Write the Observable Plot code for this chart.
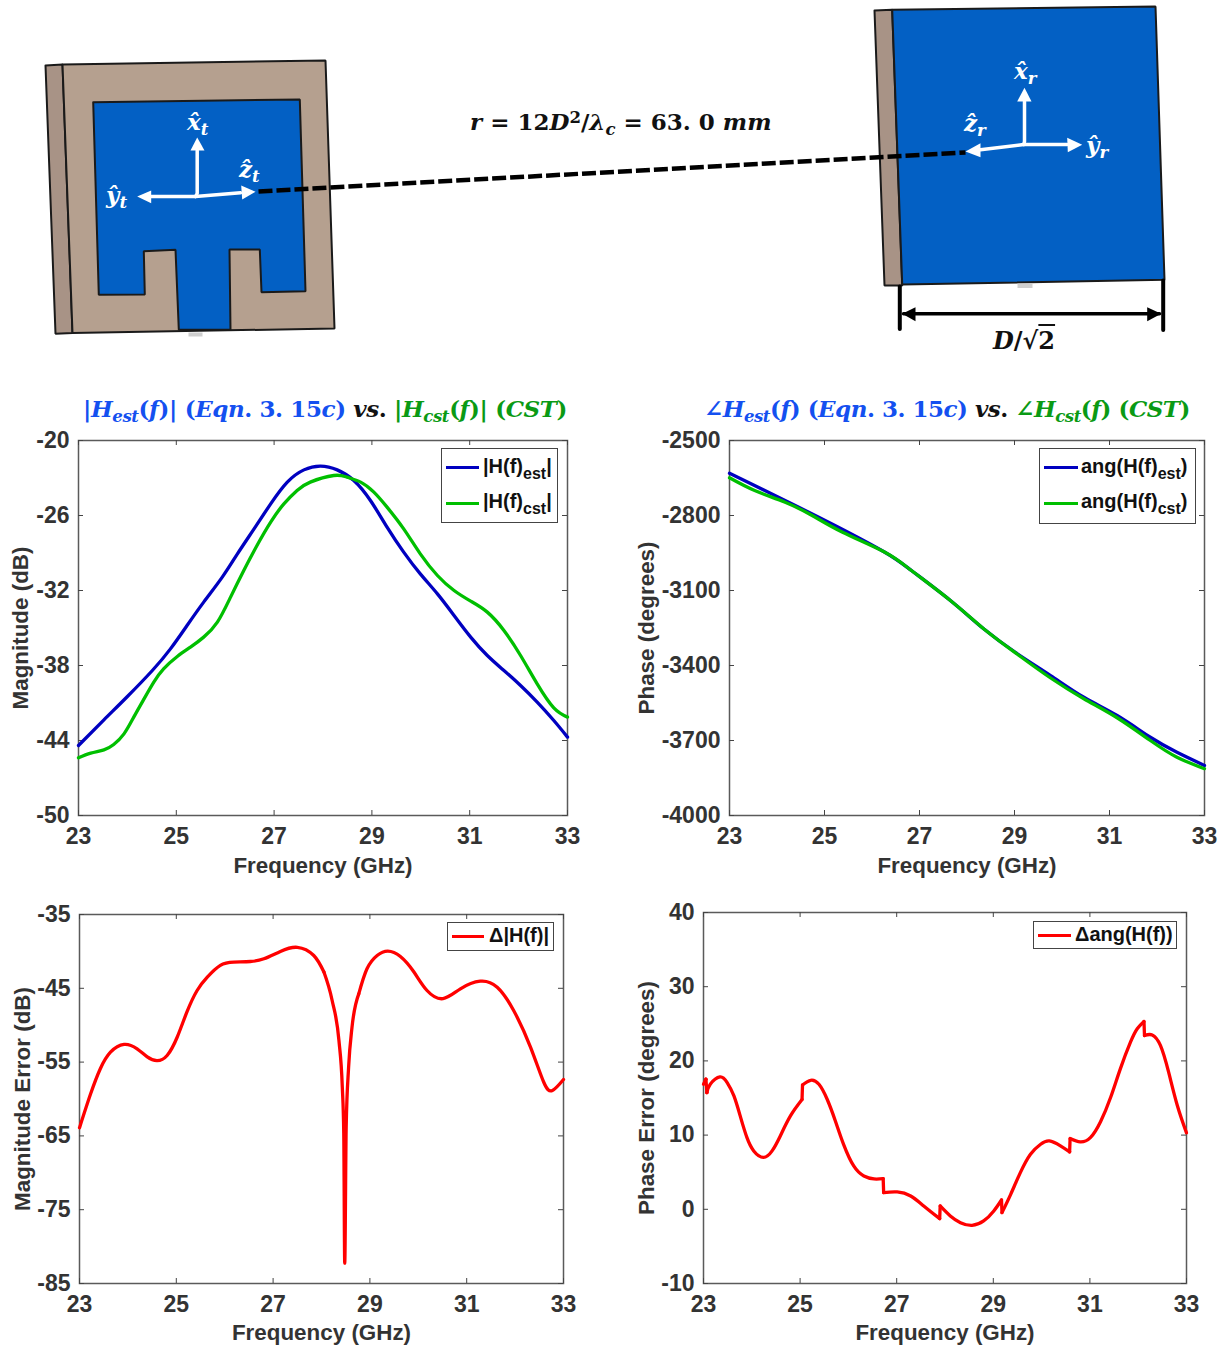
<!DOCTYPE html>
<html><head><meta charset="utf-8">
<script src="https://cdn.jsdelivr.net/npm/d3@7"></script>
<script src="https://cdn.jsdelivr.net/npm/@observablehq/plot@0.6"></script>
<style>
html,body{margin:0;background:#fff}
#page{position:relative;width:1227px;height:1349px;overflow:hidden;background:#fff}
#page svg{position:absolute;max-width:none}
.t{position:absolute;white-space:nowrap;line-height:1}
.m{font-family:"DejaVu Serif",serif;font-weight:700}
.m i{font-style:italic}
.m sub{font-size:.72em;vertical-align:baseline;position:relative;top:.28em;line-height:0}
.m sup{font-size:.72em;vertical-align:baseline;position:relative;top:-.42em;line-height:0}
.lg{position:absolute;border:1px solid #444;background:#fff;box-sizing:border-box}
.sw{position:absolute;height:3px}
.lt{position:absolute;font:700 20px "Liberation Sans",sans-serif;color:#111;white-space:nowrap;line-height:1}
.lt sub{font-size:16px;vertical-align:baseline;position:relative;top:6px;line-height:0}
</style></head><body><div id="page"></div>
<script>
// ---- frequency ticks and value ticks
const freqTicks = [23,25,27,29,31,33];
const magTicks = [-50,-44,-38,-32,-26,-20];
const phaseTicks = [-4000,-3700,-3400,-3100,-2800,-2500];
const magErrTicks = [-85,-75,-65,-55,-45,-35];
const phaseErrTicks = [-10,0,10,20,30,40];

// ---- |H(f)| estimated
const magEstF = [23,23.52,24,24.51,24.88,25.22,25.56,25.94,26.25,26.59,26.93,27.27,27.61,27.95,28.29,28.63,28.97,29.31,29.65,29.99,30.34,30.68,31.02,31.36,31.7,32.04,32.38,32.72,33];
const magEstV = [-44.4,-42.35,-40.48,-38.4,-36.67,-34.8,-32.93,-30.93,-29.07,-27.07,-25.07,-23.33,-22.35,-22.05,-22.35,-23.2,-24.8,-26.93,-28.93,-30.67,-32.27,-34,-35.73,-37.2,-38.4,-39.6,-40.93,-42.4,-43.73];
// ---- |H(f)| CST
const magCstF = [23,23.25,23.52,23.72,23.93,24.13,24.34,24.54,24.74,25.02,25.29,25.56,25.84,26.11,26.38,26.65,26.93,27.2,27.47,27.74,28.22,28.49,28.77,29.04,29.31,29.65,29.99,30.34,30.68,31.02,31.36,31.7,32.04,32.38,32.72,33];
const magCstV = [-45.39,-45.01,-44.75,-44.32,-43.47,-42.13,-40.67,-39.33,-38.27,-37.28,-36.53,-35.73,-34.53,-32.53,-30.4,-28.4,-26.53,-25.07,-24,-23.33,-22.8,-22.93,-23.33,-24.13,-25.33,-27.07,-29.07,-30.8,-32,-32.85,-33.73,-35.2,-37.2,-39.47,-41.39,-42.13];
// ---- phase estimated
const phaseEstF = [23,24.17,25.22,26.27,26.83,27.65,28.35,29.06,29.76,30.46,31.16,31.86,32.42,33];
const phaseEstV = [-2631,-2740,-2840,-2947,-3020,-3140,-3253,-3353,-3440,-3527,-3600,-3687,-3747,-3800];
// ---- phase CST
const phaseCstF = [23,23.53,24.17,24.74,25.38,26.27,26.83,27.65,28.35,29.06,29.76,30.46,31.16,31.86,32.42,33];
const phaseCstV = [-2649,-2700,-2747,-2800,-2867,-2947,-3020,-3140,-3253,-3355,-3450,-3533,-3609,-3700,-3767,-3813];
// ---- magnitude error: left flank, sharp dip, right flank
const magErrLeftF = [23,23.23,23.43,23.64,23.92,24.19,24.4,24.6,24.81,25.02,25.22,25.43,25.64,25.91,26.19,26.53,26.81,27.15,27.5,27.84,28.05];
const magErrLeftV = [-63.9,-59.3,-55.9,-53.66,-52.6,-53.2,-54.3,-54.8,-54.1,-51.6,-48.2,-45.3,-43.5,-41.9,-41.46,-41.37,-41,-40,-39.45,-40.56,-42.8];
const magErrDipF = [28.05,28.22,28.36,28.43,28.46,28.48,28.51,28.56,28.63,28.77];
const magErrDipV = [-42.8,-46.65,-52.07,-58.4,-64.7,-82.25,-63.8,-55.7,-50.3,-45.75];
const magErrRightF = [28.77,28.94,29.15,29.37,29.63,29.91,30.18,30.51,30.87,31.28,31.63,31.97,32.32,32.59,32.77,33];
const magErrRightV = [-45.75,-42.36,-40.56,-39.97,-40.7,-42.8,-45.3,-46.4,-45.07,-44.03,-44.85,-48,-53,-57.7,-58.85,-57.36];
// ---- phase error: smooth runs, joined by straight jumps
const phaseErrRunF = [
 [23,23.05],[23.05,23.07],
 [23.07,23.14,23.34,23.49,23.63,23.77,23.9,24.04,24.24,24.42,24.59,24.8,25.04],
 [25.05,25.22,25.39,25.56,25.73,25.9,26.11,26.32,26.53,26.72],
 [26.73,27.01,27.29,27.56,27.89],
 [27.9,28.11,28.32,28.56,28.8,29.01,29.17],
 [29.18,29.36,29.56,29.77,29.98,30.16,30.39,30.58],
 [30.59,30.8,31.01,31.22,31.43,31.63,31.84,31.98,32.12],
 [32.13,32.29,32.46,32.63,32.81,33]];
const phaseErrRunV = [
 [16.85,17.53],[17.53,15.73],
 [15.73,16.85,17.84,17.08,15.28,12.36,9.66,7.87,7,7.87,9.89,12.58,14.79],
 [16.76,17.39,16.85,14.83,11.91,8.76,5.84,4.49,4.09,4.13],
 [2.25,2.34,1.8,0.45,-1.26],
 [0.45,-0.9,-1.8,-2.16,-1.57,-0.22,1.26],
 [-0.45,2.02,4.94,7.42,8.76,9.21,8.54,7.73],
 [9.53,9.08,9.66,11.8,15.1,18.93,22.52,24.33,25.31],
 [23.42,23.5,22.08,18.48,13.99,10.3]];

// ---- antenna sketch outlines
const TAN = "#b5a08f", TAN_DARK = "#a89386", PATCH = "#0360c4";
const sketchNames = ["txStrip","txBoard","txPatch","txNub","rxStrip","rxPatch","rxNub"];
const sketchFills = [TAN_DARK,TAN,PATCH,"#cfcfcf",TAN_DARK,PATCH,"#cfcfcf"];
const sketchXs = [
 [45,62,72,55,45],[62,325,334,72,62],
 [92.7,299.3,305,261,259.3,229,230,178.3,175,143.3,144.3,98.3,92.7],
 [188,202,202,188,188],
 [874,891.7,901.7,884,874],[891.7,1155,1164,901.7,891.7],[1017,1032,1032,1017,1017]];
const sketchYs = [
 [65,64,332.5,333.3,65],[64,60,328,332.5,64],
 [101.7,99,290.7,291.7,249,249,329.3,329.3,249.3,250.7,294,294.3,101.7],
 [332,332,336,336,332],
 [10,9.3,285,285,10],[9.3,6,279.3,284,9.3],[283,283,287.5,287.5,283]];
const arrowShaftX = [[195,196.7,196.7],[195,150],[195,240],[1023.3,1024,1024],[1023.3,1066.7],[1023.3,980]];
const arrowShaftY = [[196,193,150],[196,196],[196,192.3],[144,141,101],[144,144],[144,149.3]];
const arrowHeadX = [[196.7,190,204],[136.7,150.7,150.7],[255,240.7,241.7],[1024,1016.7,1031],[1081.7,1066.7,1067.3],[965,980,980]];
const arrowHeadY = [[137,150,150],[196,190,202.7],[191.3,185,199],[87.3,101,101],[144.3,137.3,151.7],[151,142.7,156.7]];
const linkX = [258,965], linkY = [191,152];
const dimBarX = [[899.3,899.3],[1162.7,1162.7],[903,1159]];
const dimBarY = [[286,328.5],[280,329.5],[313.3,313.3]];
const dimHeadX = [[901.7,915,915],[1160.7,1146.7,1146.7]];
const dimHeadY = [[313.3,306.7,320.7],[313.3,306.7,320.7]];

const page = document.getElementById("page");
const pts = (xs,ys) => xs.map((x,i)=>({x,y:ys[i]}));

// ---- sketch drawn through identity scales
const sketchMarks = [];
sketchNames.forEach((n,i)=>{
  sketchMarks.push(Plot.line(pts(sketchXs[i],sketchYs[i]),{x:"x",y:"y",fill:sketchFills[i],stroke:n.includes("Nub")?"none":"#1a1a1a",strokeWidth:2,strokeLinejoin:"miter"}));
});
sketchMarks.push(Plot.line(pts(linkX,linkY),{x:"x",y:"y",stroke:"#000",strokeWidth:4.5,strokeDasharray:"14,4",strokeLinecap:"butt"}));
arrowShaftX.forEach((xs,i)=>sketchMarks.push(Plot.line(pts(xs,arrowShaftY[i]),{x:"x",y:"y",stroke:"#fff",strokeWidth:3.5,strokeLinejoin:"miter"})));
arrowHeadX.forEach((xs,i)=>sketchMarks.push(Plot.line(pts(xs,arrowHeadY[i]),{x:"x",y:"y",fill:"#fff",stroke:"none"})));
dimBarX.forEach((xs,i)=>sketchMarks.push(Plot.line(pts(xs,dimBarY[i]),{x:"x",y:"y",stroke:"#000",strokeWidth:i<2?4:3.5})));
dimHeadX.forEach((xs,i)=>sketchMarks.push(Plot.line(pts(xs,dimHeadY[i]),{x:"x",y:"y",fill:"#000",stroke:"none"})));
const sketch = Plot.plot({width:1227,height:372,margin:0,
  x:{domain:[0,1227],range:[0,1227],axis:null},
  y:{domain:[0,372],range:[0,372],axis:null},
  style:{left:"0px",top:"0px",background:"transparent"},marks:sketchMarks});
page.appendChild(sketch);

// ---- charts
function chart({fx,fy,fw,fh,yDomain,yTicks,xLabel,yLabel,yLabelDx,xLabelDy=50,series,tickSize=5}){
  const mL=fx<300?fx:105, mT=18, mR=30, mB=66;
  const [y0,y1]=yDomain;
  const dy=(y1-y0)/fh*tickSize, dx=10/fw*tickSize;
  const tk={stroke:"#444",strokeWidth:1};
  const lineMarks=[];
  for(const s of series){
    const common={x:"x",y:"y",stroke:s.color,strokeWidth:3.3,strokeLinecap:"round",strokeLinejoin:"round"};
    if(s.runsF){
      s.runsF.forEach((f,i)=>{
        lineMarks.push(Plot.line(pts(f,s.runsV[i]),{...common,curve:s.curves?s.curves[i]:"natural"}));
        if(s.jumps&&i+1<s.runsF.length){
          lineMarks.push(Plot.line(pts([f[f.length-1],s.runsF[i+1][0]],[s.runsV[i][f.length-1],s.runsV[i+1][0]]),common));
        }
      });
    } else lineMarks.push(Plot.line(pts(s.f,s.v),{...common,curve:"natural"}));
  }
  const svg=Plot.plot({width:mL+fw+mR,height:mT+fh+mB,marginLeft:mL,marginTop:mT,marginRight:mR,marginBottom:mB,
    x:{domain:[23,33],axis:null},y:{domain:yDomain,axis:null},
    style:{left:(fx-mL)+"px",top:(fy-mT)+"px",background:"transparent",fontFamily:"'Liberation Sans',Arial,sans-serif",fontSize:"23px",fontWeight:700,color:"#333"},
    marks:[
      Plot.frame({stroke:"#5a5a5a",strokeWidth:1.5}),
      Plot.ruleX(freqTicks,{x:d=>d,y1:y0,y2:y0+dy,...tk}),
      Plot.ruleX(freqTicks,{x:d=>d,y1:y1,y2:y1-dy,...tk}),
      Plot.ruleY(yTicks,{y:d=>d,x1:23,x2:23+dx,...tk}),
      Plot.ruleY(yTicks,{y:d=>d,x1:33,x2:33-dx,...tk}),
      Plot.axisX(freqTicks,{anchor:"bottom",tickSize:0,tickPadding:12,label:null,tickFormat:d=>String(d),fill:"#333"}),
      Plot.axisY(yTicks,{anchor:"left",tickSize:0,tickPadding:9,label:null,tickFormat:d=>String(d),fill:"#333"}),
      Plot.text([xLabel],{frameAnchor:"bottom",lineAnchor:"middle",dy:xLabelDy,text:d=>d,fontSize:22.4,fontWeight:700,fill:"#333"}),
      Plot.text([yLabel],{frameAnchor:"left",textAnchor:"middle",lineAnchor:"middle",dx:yLabelDx,text:d=>d,rotate:-90,fontSize:22.4,fontWeight:700,fill:"#333"}),
      ...lineMarks
    ]});
  page.appendChild(svg);
}
const BLUE="#0000c0", GREEN="#00bf00", RED="#ff0000";
chart({fx:78,fy:440,fw:489,fh:375,yDomain:[-50,-20],yTicks:magTicks,xLabel:"Frequency (GHz)",yLabel:"Magnitude (dB)",yLabelDx:-58,
  series:[{f:magEstF,v:magEstV,color:BLUE},{f:magCstF,v:magCstV,color:GREEN}]});
chart({fx:729,fy:440,fw:475,fh:375,yDomain:[-4000,-2500],yTicks:phaseTicks,xLabel:"Frequency (GHz)",yLabel:"Phase (degrees)",yLabelDx:-83,
  series:[{f:phaseEstF,v:phaseEstV,color:BLUE},{f:phaseCstF,v:phaseCstV,color:GREEN}]});
chart({fx:79,fy:914,fw:484,fh:369,yDomain:[-85,-35],yTicks:magErrTicks,xLabel:"Frequency (GHz)",yLabel:"Magnitude Error (dB)",yLabelDx:-57,xLabelDy:49,
  series:[{runsF:[magErrLeftF,magErrDipF,magErrRightF],runsV:[magErrLeftV,magErrDipV,magErrRightV],curves:["natural","monotone-x","natural"],color:RED}]});
chart({fx:703,fy:912,fw:483,fh:371,yDomain:[-10,40],yTicks:phaseErrTicks,xLabel:"Frequency (GHz)",yLabel:"Phase Error (degrees)",yLabelDx:-57,xLabelDy:49,
  series:[{runsF:phaseErrRunF,runsV:phaseErrRunV,jumps:true,color:RED}]});

// ---- text overlays
function add(cls,css,html){const e=document.createElement("div");e.className=cls;e.style.cssText=css;e.innerHTML=html;page.appendChild(e);return e;}
const TB="#1450f0", TG="#0a9a14";
add("t m",`left:470px;top:110px;font-size:23px;color:#111`,`<i>r</i> = 12<i>D</i><sup>2</sup>/<i>λ</i><sub><i>c</i></sub> = 63. 0 <i>mm</i>`);
add("t m",`left:993px;top:329px;font-size:24px;color:#111`,`<i>D</i>/√<span style="text-decoration:overline">2</span>`);
const W=`font-size:23px;color:#fff`;
add("t m",`left:187px;top:110px;${W}`,`<i>x̂</i><sub><i>t</i></sub>`);
add("t m",`left:239px;top:157px;${W}`,`<i>ẑ</i><sub><i>t</i></sub>`);
add("t m",`left:106px;top:183px;${W}`,`<i>ŷ</i><sub><i>t</i></sub>`);
add("t m",`left:1014px;top:59px;${W}`,`<i>x̂</i><sub><i>r</i></sub>`);
add("t m",`left:964px;top:111px;${W}`,`<i>ẑ</i><sub><i>r</i></sub>`);
add("t m",`left:1086px;top:133px;${W}`,`<i>ŷ</i><sub><i>r</i></sub>`);
const c=(col,s)=>`<span style="color:${col}">${s}</span>`;
add("t m",`left:83px;top:397px;font-size:23px;letter-spacing:-.4px`,
  c(TB,`|<i>H<sub>est</sub></i>(<i>f</i>)| (<i>Eqn</i>. 3. 15<i>c</i>) `)+c("#111",`<i>vs</i>. `)+c(TG,`|<i>H<sub>cst</sub></i>(<i>f</i>)| (<i>CST</i>)`));
add("t m",`left:704px;top:397px;font-size:23px;letter-spacing:-.5px`,
  c(TB,`∠<i>H<sub>est</sub></i>(<i>f</i>) (<i>Eqn</i>. 3. 15<i>c</i>) `)+c("#111",`<i>vs</i>. `)+c(TG,`∠<i>H<sub>cst</sub></i>(<i>f</i>) (<i>CST</i>)`));

function legend(box,entries){
  add("lg",`left:${box[0]}px;top:${box[1]}px;width:${box[2]-box[0]}px;height:${box[3]-box[1]}px`,"");
  for(const e of entries){
    add("sw",`left:${e.x1}px;width:${e.x2-e.x1}px;top:${e.y-1.5}px;background:${e.color}`,"");
    add("lt",`left:${e.tx}px;top:${e.y-12}px`,e.html);
  }
}
legend([441,448,558,523],[
  {x1:446,x2:479,y:467.5,color:BLUE,tx:483,html:"|H(f)<sub>est</sub>|"},
  {x1:446,x2:479,y:503,color:GREEN,tx:483,html:"|H(f)<sub>cst</sub>|"}]);
legend([1039,448,1196,524],[
  {x1:1044,x2:1078,y:467.5,color:BLUE,tx:1081,html:"ang(H(f)<sub>est</sub>)"},
  {x1:1044,x2:1078,y:503,color:GREEN,tx:1081,html:"ang(H(f)<sub>cst</sub>)"}]);
legend([447,922,554,951],[{x1:452,x2:484,y:936.5,color:RED,tx:489,html:"Δ|H(f)|"}]);
legend([1033,921,1177,949],[{x1:1038,x2:1071,y:935.5,color:RED,tx:1075,html:"Δang(H(f))"}]);
</script></body></html>
